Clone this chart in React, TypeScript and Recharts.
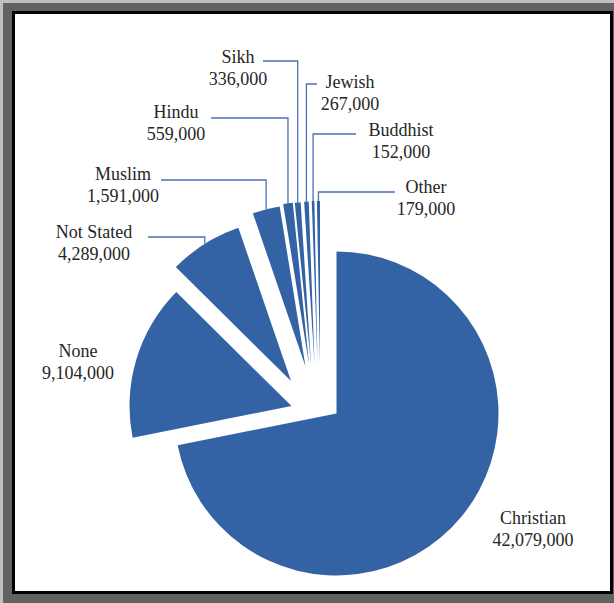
import React from 'react'
import { PieChart, Pie, Cell } from 'recharts'

const religions = ['Christian', 'None', 'Not Stated', 'Muslim', 'Hindu', 'Sikh', 'Jewish', 'Buddhist', 'Other']
const followers = [42079000, 9104000, 4289000, 1591000, 559000, 336000, 267000, 152000, 179000]

// per-slice explosion (px), the slices were pulled out by hand in the original
const explode: [number, number][] = [
  [0, 0], [-45, -7.5], [-45.5, -32.5], [-31, -47], [-27.5, -49.5],
  [-25.5, -49.5], [-22, -50], [-19, -50.5], [-16.5, -50.5],
]
// label centre (first line) and where the leader line starts
const labelAt: [number, number][] = [
  [533, 518], [78, 351], [94, 232], [123, 174], [176, 112],
  [238, 57], [350, 82], [401, 130], [426, 187],
]
const leaderFrom: ([number, number] | null)[] = [
  null, null, [148, 237], [161, 180], [211, 118],
  [263, 61], [317, 84], [356, 134], [395, 192],
]

const PIE_CX = 336.5
const PIE_CY = 413.5
const RADIUS = 162
const BLUE = '#3463a5'
const LINE = '#4a72b4'
const TEXT = '#262626'
const FONT = '"Liberation Serif", "Times New Roman", serif'

const data = religions.map((name, i) => ({ name, value: followers[i] }))

function makeLabel(own: number) {
  return (props: any) => {
    if (props.index !== own) return null
    const [lx, ly] = labelAt[own]
    const from = leaderFrom[own]
    const rad = Math.PI / 180
    const ax = props.cx + props.outerRadius * Math.cos(-props.midAngle * rad)
    const ay = props.cy + props.outerRadius * Math.sin(-props.midAngle * rad)
    return (
      <g>
        {from && (
          <path
            d={`M${from[0]},${from[1]}H${ax}V${ay}`}
            fill="none"
            stroke={LINE}
            strokeWidth={1.3}
          />
        )}
        <text x={lx} y={ly} textAnchor="middle" fontFamily={FONT} fontSize={18} fill={TEXT}>
          <tspan x={lx} dy="0.35em">{religions[own]}</tspan>
          <tspan x={lx} dy={22}>{followers[own].toLocaleString('en-US')}</tspan>
        </text>
      </g>
    )
  }
}

export default function App() {
  return (
    <div style={{ position: 'absolute', left: 0, top: 0, width: 614, height: 603, background: '#626262', overflow: 'hidden' }}>
      <div style={{ position: 'absolute', left: 0, top: 0, width: 614, height: 3, background: '#bfbfbf' }} />
      <div style={{ position: 'absolute', left: 0, top: 0, width: 3, height: 603, background: '#bfbfbf' }} />
      <div
        style={{
          position: 'absolute', left: 12, top: 11, width: 601, height: 583,
          border: '3px solid #000', background: '#fff', boxSizing: 'border-box',
        }}
      />
      <div style={{ position: 'absolute', left: 0, top: 0 }}>
        <PieChart width={614} height={603} margin={{ top: 0, right: 0, bottom: 0, left: 0 }}>
          {religions.map((_, own) => (
            <Pie
              key={own}
              data={data}
              dataKey="value"
              nameKey="name"
              cx={PIE_CX + explode[own][0]}
              cy={PIE_CY + explode[own][1]}
              outerRadius={RADIUS}
              startAngle={90}
              endAngle={-270}
              label={makeLabel(own)}
              labelLine={false}
              isAnimationActive={false}
            >
              {data.map((_, i) => (
                <Cell
                  key={i}
                  fill={i === own ? BLUE : 'none'}
                  stroke="none"
                />
              ))}
            </Pie>
          ))}
        </PieChart>
      </div>
    </div>
  )
}
